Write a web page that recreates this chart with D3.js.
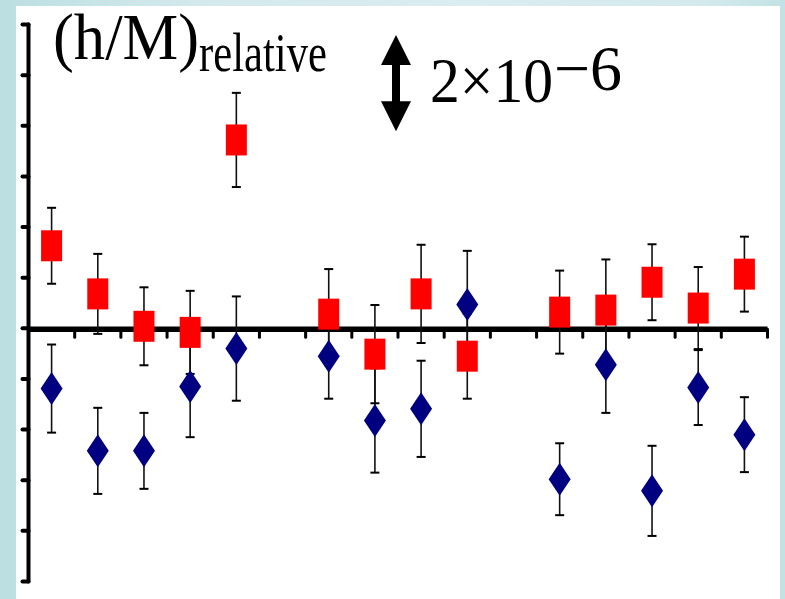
<!DOCTYPE html>
<html>
<head>
<meta charset="utf-8">
<script src="https://cdn.jsdelivr.net/npm/d3@7"></script>
<style>
  html, body { margin: 0; padding: 0; }
  body { width: 785px; height: 599px; overflow: hidden;
         background: linear-gradient(90deg, #bcdfe2 0%, #d3e9ec 25%, #daedf0 60%, #d3e9ec 90%, #c2e2e6 100%); }
  svg { display: block; }
  .serif { font-family: "Liberation Serif", "Times New Roman", Times, "DejaVu Serif", serif; }
</style>
</head>
<body>
<svg id="chart" width="785" height="599"></svg>
<script>
// ---- data (values in units of 1e-6) ----
const categories = [1,2,3,4,5,6,7,8,9,10,11,12,13,14,15,16];
const redValues  = [1.63, 0.68, 0.04, -0.08, 3.72, null, 0.28, -0.51, 0.68, -0.55, null, 0.32, 0.36, 0.91, 0.40, 1.07];
const redErrors  = [0.75, 0.79, 0.77, 0.82, 0.93, null, 0.89, 0.97, 0.97, 0.84, null, 0.82, 1.00, 0.75, 0.81, 0.74];
const blueValues = [-1.19, -2.42, -2.42, -1.15, -0.40, null, -0.55, -1.82, -1.59, 0.47, null, -2.98, -0.72, -3.21, -1.17, -2.10];
const blueErrors = [0.87, 0.85, 0.75, 1.00, 1.03, null, 0.84, 1.03, 0.95, 1.06, null, 0.71, 0.95, 0.89, 0.74, 0.74];
const yTicks = [-5,-4,-3,-2,-1,0,1,2,3,4,5,6];
const scaleBarUnits = 2; // "2×10^-6" arrow

const svg = d3.select("#chart");

// white panel
svg.append("rect").attr("x", 16).attr("y", 6).attr("width", 764).attr("height", 600).attr("fill", "#ffffff");

const x = d3.scaleLinear().domain([0, categories.length]).range([28.5, 767.5]);
const y = d3.scaleLinear().domain([-5, 6]).range([581.5, 24.5]);
const cx = i => x(i + 0.5);

// y axis
const yAxisG = svg.append("g");
yAxisG.append("line").attr("x1", x(0)).attr("x2", x(0)).attr("y1", y(6)).attr("y2", y(-5))
  .attr("stroke", "#000").attr("stroke-width", 4).attr("stroke-linecap", "round");
yAxisG.selectAll("line.tk").data(yTicks).join("line").attr("class", "tk")
  .attr("x1", x(0) - 6).attr("x2", x(0)).attr("y1", d => y(d)).attr("y2", d => y(d))
  .attr("stroke", "#000").attr("stroke-width", 4).attr("stroke-linecap", "round");

// x axis (zero line)
const xAxisG = svg.append("g");
xAxisG.append("line").attr("x1", x(0)).attr("x2", x(categories.length)).attr("y1", y(0) + 1).attr("y2", y(0) + 1)
  .attr("stroke", "#000").attr("stroke-width", 5.5);
xAxisG.selectAll("line.tk").data(d3.range(1, categories.length + 1)).join("line").attr("class", "tk")
  .attr("x1", d => x(d)).attr("x2", d => x(d)).attr("y1", y(0) + 1).attr("y2", y(0) + 9)
  .attr("stroke", "#000").attr("stroke-width", 3).attr("stroke-linecap", "round");

// error bars
function errorBars(vals, errs, cls) {
  const data = categories.map((c, i) => ({i, v: vals[i], e: errs[i]})).filter(d => d.v !== null);
  const g = svg.append("g").attr("class", cls);
  g.selectAll("line.v").data(data).join("line").attr("class", "v")
    .attr("x1", d => cx(d.i)).attr("x2", d => cx(d.i))
    .attr("y1", d => y(d.v + d.e)).attr("y2", d => y(d.v - d.e))
    .attr("stroke", "#111").attr("stroke-width", 1.6);
  ["+", "-"].forEach(s => {
    g.selectAll("line.c" + (s === "+" ? "t" : "b")).data(data).join("line").attr("class", "c" + (s === "+" ? "t" : "b"))
      .attr("x1", d => cx(d.i) - 4.5).attr("x2", d => cx(d.i) + 4.5)
      .attr("y1", d => y(s === "+" ? d.v + d.e : d.v - d.e)).attr("y2", d => y(s === "+" ? d.v + d.e : d.v - d.e))
      .attr("stroke", "#000").attr("stroke-width", 2);
  });
  return data;
}
const blueData = errorBars(blueValues, blueErrors, "blue-err");
const redData = errorBars(redValues, redErrors, "red-err");

// blue diamonds
svg.append("g").selectAll("path").data(blueData).join("path")
  .attr("d", d => {
    const px = cx(d.i), py = y(d.v);
    return `M${px},${py - 16.5}L${px + 11},${py}L${px},${py + 16.5}L${px - 11},${py}Z`;
  })
  .attr("fill", "#000080");

// red squares
svg.append("g").selectAll("rect").data(redData).join("rect")
  .attr("x", d => cx(d.i) - 10.5).attr("y", d => y(d.v) - 15.5)
  .attr("width", 21).attr("height", 31)
  .attr("fill", "#ff0000");

// title
svg.append("text").attr("class", "serif").attr("x", 53).attr("y", 59)
  .attr("font-size", 66)
  .attr("textLength", 146).attr("lengthAdjust", "spacingAndGlyphs")
  .text("(h/M)");
svg.append("text").attr("class", "serif").attr("x", 199).attr("y", 71)
  .attr("font-size", 55)
  .attr("textLength", 128).attr("lengthAdjust", "spacingAndGlyphs")
  .text("relative");

// scale arrow
const ax = 396, aTop = 35, aBot = aTop + (y(0) - y(scaleBarUnits)) * 0.95;
svg.append("path")
  .attr("d", `M${ax},${aTop} L${ax + 15},${aTop + 30} L${ax + 4},${aTop + 30} L${ax + 4},${aBot - 30} L${ax + 15},${aBot - 30} L${ax},${aBot} L${ax - 15},${aBot - 30} L${ax - 4},${aBot - 30} L${ax - 4},${aTop + 30} L${ax - 15},${aTop + 30} Z`)
  .attr("fill", "#000");
svg.append("text").attr("class", "serif").attr("x", 430).attr("y", 102)
  .attr("font-size", 64)
  .attr("textLength", 123).attr("lengthAdjust", "spacingAndGlyphs")
  .text("2×10");
svg.append("text").attr("class", "serif").attr("x", 554).attr("y", 90)
  .attr("font-size", 64)
  .attr("textLength", 68).attr("lengthAdjust", "spacingAndGlyphs")
  .text("−6");
</script>
</body>
</html>
